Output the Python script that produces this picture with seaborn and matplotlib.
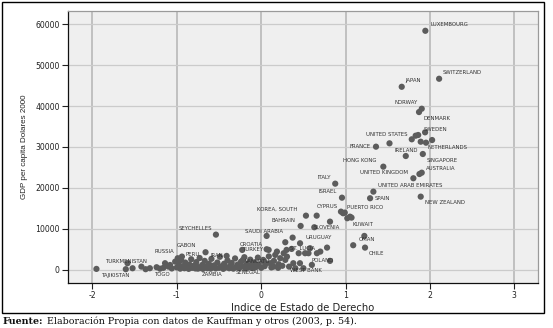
import matplotlib
matplotlib.use("Agg")
import matplotlib.pyplot as plt
import seaborn as sns
import pandas as pd
from matplotlib.patches import Rectangle

# ---------------- data ----------------
country = [
    "LUXEMBOURG", "SWITZERLAND", "JAPAN", "NORWAY", "DENMARK", "SWEDEN",
    "UNITED STATES", "NETHERLANDS", "FRANCE", "IRELAND", "SINGAPORE",
    "HONG KONG", "AUSTRALIA", "UNITED KINGDOM", "ITALY", "UNITED ARAB EMIRATES",
    "ISRAEL", "SPAIN", "NEW ZEALAND", "CYPRUS", "PUERTO RICO", "KUWAIT",
    "KOREA, SOUTH", "BAHRAIN", "SLOVENIA", "SAUDI ARABIA", "SEYCHELLES",
    "URUGUAY", "OMAN", "CHILE", "GABON", "RUSSIA", "PERU", "CROATIA",
    "TURKEY", "IRAN", "VANUATU", "TURKMENISTAN", "TAJIKISTAN", "TOGO",
    "ZAMBIA", "SENEGAL", "WEST BANK", "POLAND", "ST. LUCIA",
]
rule_of_law = [
    1.945, 2.108, 1.665, 1.902, 1.870, 1.942,
    1.784, 1.953, 1.360, 1.713, 1.915,
    1.447, 1.902, 1.803, 0.877, 1.329,
    0.957, 1.290, 1.890, 0.945, 1.052, 1.020,
    0.530, 0.467, 0.629, 0.064, -0.537,
    0.372, 1.222, 1.230, -0.940, -0.990, -0.660, 0.064,
    -0.225, -0.410, -0.217, -1.585, -1.953, -1.320,
    -0.750, -0.347, 0.459, 0.815, 0.360,
]
gdp = [
    58370, 46660, 44700, 39340, 38530, 33580,
    31880, 31050, 30080, 27800, 28290,
    25200, 23730, 22370, 21050, 19100,
    17630, 17490, 17880, 14220, 12990, 12610,
    13240, 10730, 10410, 8290, 8610,
    7880, 8290, 5440, 3250, 2850, 4310, 5040,
    4880, 3410, 2440, 1630, 240, 410,
    300, 490, 1630, 2200, 5120,
]

# unlabeled countries
other_rule_of_law = [
    1.83, 1.86, 2.025, 1.89, 1.52, 1.875, 0.99, 0.97, 1.07, 0.657, 0.815,
    1.09, 0.285, 0.46,
    0.088, 0.186, 0.166, 0.266, 0.305, 0.225, 0.285, 0.444, 0.52, 0.56,
    0.66, 0.70, 0.78, 0.107, 0.147, 0.206, 0.404, 0.50, 0.60, 0.30,
    0.578, 0.38, 0.024, 0.25, 0.33, 0.15, 0.20,
    -1.605, -1.525, -1.42, -1.37, -1.24, -1.20, -1.14, -1.10, -1.06,
    -1.02, -1.08, -1.16,
    -1.00, -0.98, -0.96, -0.95, -0.93, -0.91, -0.90, -0.88, -0.86, -0.85,
    -0.83, -0.82, -0.80, -0.78, -0.77, -0.75, -0.73, -0.72, -0.70, -0.69,
    -0.67, -0.66, -0.64, -0.62, -0.60, -0.59, -0.57, -0.56, -0.54, -0.52,
    -0.50, -0.49, -0.47, -0.45, -0.44, -0.42, -0.40, -0.38, -0.37, -0.35,
    -0.33, -0.31, -0.30, -0.28, -0.26, -0.24, -0.22, -0.20, -0.19, -0.17,
    -0.15, -0.13, -0.12, -0.10, -0.08, -0.06, -0.04, -0.03, 0.00, 0.02,
    0.04, 0.06, 0.09, 0.12,
]
other_gdp = [
    32760, 32930, 31700, 31290, 30900, 23400, 13980, 13830, 12760, 13240, 11780,
    6020, 6750, 6500,
    4880, 4470, 3660, 4070, 3240, 2850, 2440, 4070, 4070, 4070,
    4070, 4470, 5440, 1630, 800, 1390, 410, 410, 1220, 4880,
    5290, 1630, 2440, 1000, 800, 2200, 500,
    170, 400, 800, 170, 650, 300, 1630, 800, 350,
    2020, 1200, 500,
    600, 1500, 300, 2400, 900, 400, 1800, 700, 250, 1300,
    2600, 500, 1000, 350, 1900, 700, 2900, 450, 1200, 250,
    2200, 800, 400, 1500, 300, 2700, 650, 1100, 350, 1800,
    500, 3200, 900, 250, 1500, 600, 2300, 400, 1000, 1700,
    300, 2800, 700, 1300, 450, 2000, 900, 3100, 350, 1500,
    600, 2500, 1100, 400, 1800, 700, 3000, 1300, 500, 2200,
    900, 1600, 3300, 600,
]

x_ticks = [-2, -1, 0, 1, 2, 3]
y_ticks = [0, 10000, 20000, 30000, 40000, 50000, 60000]
x_label = "Indice de Estado de Derecho"
y_label = "GDP per capita Dolares 2000"
source_bold = "Fuente:"
source_rest = " Elaboración Propia con datos de Kauffman y otros (2003, p. 54)."

# ---------------- layout (label offsets in pixels, alignment) ----------------
label_layout = {
    "LUXEMBOURG": (5, 6, "left"), "SWITZERLAND": (4, 6, "left"),
    "JAPAN": (4, 6, "left"), "NORWAY": (-4, 6, "right"),
    "DENMARK": (4, -6, "left"), "SWEDEN": (-1, 3, "left"),
    "UNITED STATES": (-4, 5, "right"), "NETHERLANDS": (1, -5, "left"),
    "FRANCE": (-5, 0, "right"), "IRELAND": (0, 6, "center"),
    "SINGAPORE": (4, -6, "left"), "HONG KONG": (-7, 6, "right"),
    "AUSTRALIA": (4, 4, "left"), "UNITED KINGDOM": (-5, 6, "right"),
    "ITALY": (-4, 6, "right"), "UNITED ARAB EMIRATES": (5, 6, "left"),
    "ISRAEL": (-5, 6, "right"), "SPAIN": (5, 0, "left"),
    "NEW ZEALAND": (4, -6, "left"), "CYPRUS": (-3, 5, "right"),
    "PUERTO RICO": (-3, 9, "left"), "KUWAIT": (5, -6, "left"),
    "KOREA, SOUTH": (-9, 6, "right"), "BAHRAIN": (-5, 5, "right"),
    "SLOVENIA": (-1, 0, "left"), "SAUDI ARABIA": (-3, 4, "center"),
    "SEYCHELLES": (-4, 6, "right"), "URUGUAY": (13, 0, "left"),
    "OMAN": (-6, -4, "left"), "CHILE": (4, -6, "left"),
    "GABON": (-5, 11, "left"), "RUSSIA": (-4, 7, "right"),
    "PERU": (-6, -2, "right"), "CROATIA": (-4, 5, "right"),
    "TURKEY": (0, 0, "left"), "IRAN": (-4, 0, "right"),
    "VANUATU": (2, -2, "left"), "TURKMENISTAN": (-2, 2, "center"),
    "TAJIKISTAN": (5, -7, "left"), "TOGO": (4, -6, "left"),
    "ZAMBIA": (4, -6, "left"), "SENEGAL": (4, -5, "left"),
    "WEST BANK": (6, -7, "center"), "POLAND": (-7, 0, "center"),
    "ST. LUCIA": (-2, 0, "left"),
}

df = pd.DataFrame({
    "country": country + [""] * len(other_gdp),
    "rol": rule_of_law + other_rule_of_law,
    "gdp": gdp + other_gdp,
})

sns.set_theme(style="whitegrid", rc={
    "axes.facecolor": "#efefef",
    "grid.color": "#c4c4c4",
})
plt.rcParams["font.family"] = ["DejaVu Sans"]

fig = plt.figure(figsize=(5.53, 3.28), dpi=100)
fig.patch.set_facecolor("white")
ax = fig.add_axes([68 / 553, 45 / 328, 470 / 553, 272 / 328])

sns.scatterplot(data=df, x="rol", y="gdp", ax=ax, color="#5c5c5c",
                s=20, edgecolor="none", linewidth=0, zorder=3, legend=False)

for name, xv, yv in zip(country, rule_of_law, gdp):
    dx, dy, ha = label_layout[name]
    ax.annotate(name, (xv, yv), xytext=(dx, dy), textcoords="offset pixels",
                ha=ha, va="center", fontsize=3.9, color="#333333", zorder=4)

ax.set_xlim(-2.29, 3.28)
ax.set_ylim(-3200, 63200)
ax.set_xticks(x_ticks)
ax.set_yticks(y_ticks)
ax.set_xticklabels([str(t) for t in x_ticks])
ax.set_yticklabels([str(t) for t in y_ticks])
ax.xaxis.grid(True, color="#bdbdbd", linewidth=1.3)
ax.yaxis.grid(True, color="#cbcbcb", linewidth=0.9)
ax.set_axisbelow(True)
ax.tick_params(axis="both", which="major", labelsize=5.6, length=4, width=0.8,
               color="#222222", labelcolor="#222222", pad=2, bottom=True, left=True)
ax.set_xlabel(x_label, fontsize=7.2, color="#222222", labelpad=2)
ax.set_ylabel(y_label, fontsize=5.8, color="#222222", labelpad=5,
              family=["Liberation Sans"])

for side in ["left", "bottom"]:
    ax.spines[side].set_color("#111111")
    ax.spines[side].set_linewidth(0.9)
for side in ["top", "right"]:
    ax.spines[side].set_color("#9a9a9a")
    ax.spines[side].set_linewidth(0.9)

# outer frame
frame = Rectangle((2 / 553, 15 / 328), 542 / 553, 311 / 328, transform=fig.transFigure,
                  fill=False, edgecolor="black", linewidth=1.0)
fig.patches.append(frame)

t1 = fig.text(3 / 553, 1 - 321 / 328, source_bold, fontsize=6.8, fontweight="bold",
              family=["DejaVu Serif"], va="center", ha="left", color="#111111")
fig.canvas.draw()
bb = t1.get_window_extent(renderer=fig.canvas.get_renderer())
fig.text(bb.x1 / fig.bbox.width, 1 - 321 / 328, source_rest, fontsize=6.8,
         family=["DejaVu Serif"], va="center", ha="left", color="#111111")

fig.savefig("out.png", dpi=100)
